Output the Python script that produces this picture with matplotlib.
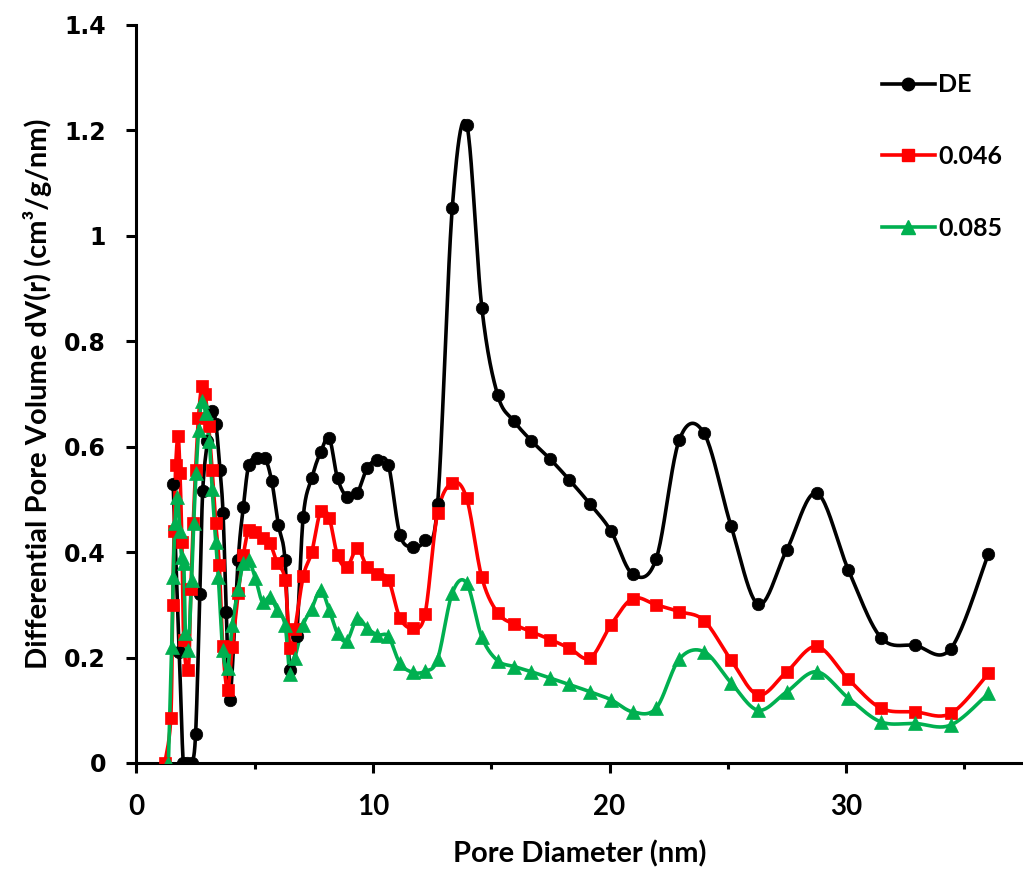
import numpy as np
import matplotlib
matplotlib.use("Agg")
import matplotlib.pyplot as plt
from matplotlib.lines import Line2D
from matplotlib.ticker import MultipleLocator, FuncFormatter

# pore size distributions (BJH), diameter in nm, dV/dD in cm3/g/nm
x_de = [1.55, 1.81, 1.98, 2.15, 2.33, 2.5, 2.68, 2.8, 3.0, 3.2,
        3.36, 3.53, 3.66, 3.8, 3.95, 4.3, 4.52, 4.75, 5.08, 5.43,
        5.72, 6.0, 6.28, 6.49, 6.77, 7.05, 7.41, 7.79, 8.15, 8.5,
        8.9, 9.33, 9.75, 10.18, 10.65, 11.14, 11.68, 12.2, 12.73, 13.35,
        13.96, 14.6, 15.27, 15.97, 16.7, 17.5, 18.3, 19.18, 20.06, 20.98,
        21.97, 22.95, 24.0, 25.14, 26.29, 27.49, 28.76, 30.1, 31.47, 32.92,
        34.43, 36.02]
y_de = [0.53, 0.21, 0, 0, 0, 0.055, 0.32, 0.515, 0.61, 0.667,
        0.643, 0.556, 0.474, 0.287, 0.12, 0.385, 0.486, 0.565, 0.578, 0.578,
        0.534, 0.452, 0.385, 0.176, 0.24, 0.467, 0.541, 0.59, 0.616, 0.54,
        0.505, 0.512, 0.559, 0.575, 0.565, 0.433, 0.41, 0.423, 0.491, 1.052,
        1.211, 0.864, 0.698, 0.648, 0.611, 0.576, 0.537, 0.491, 0.44, 0.358,
        0.387, 0.613, 0.625, 0.449, 0.301, 0.404, 0.512, 0.366, 0.238, 0.223,
        0.217, 0.397]

x_046 = [1.2, 1.45, 1.53, 1.59, 1.66, 1.76, 1.84, 1.92, 2.0, 2.19,
         2.3, 2.4, 2.5, 2.62, 2.76, 2.9, 3.05, 3.2, 3.35, 3.5,
         3.65, 3.85, 4.05, 4.3, 4.52, 4.75, 5.03, 5.33, 5.64, 5.95,
         6.28, 6.49, 6.7, 7.05, 7.41, 7.79, 8.15, 8.5, 8.9, 9.33,
         9.75, 10.18, 10.65, 11.14, 11.68, 12.2, 12.73, 13.35, 13.96, 14.6,
         15.27, 15.97, 16.7, 17.5, 18.3, 19.18, 20.06, 20.98, 21.97, 22.95,
         24.0, 25.14, 26.29, 27.49, 28.76, 30.1, 31.47, 32.92, 34.43, 36.02]
y_046 = [0, 0.085, 0.30, 0.44, 0.565, 0.62, 0.55, 0.42, 0.233, 0.176,
         0.33, 0.455, 0.556, 0.654, 0.715, 0.70, 0.64, 0.556, 0.455, 0.376,
         0.221, 0.139, 0.22, 0.322, 0.395, 0.442, 0.439, 0.426, 0.417, 0.379,
         0.347, 0.218, 0.255, 0.354, 0.40, 0.478, 0.464, 0.394, 0.372, 0.407,
         0.372, 0.358, 0.348, 0.275, 0.256, 0.283, 0.474, 0.531, 0.502, 0.352,
         0.285, 0.263, 0.249, 0.234, 0.218, 0.199, 0.262, 0.312, 0.300, 0.287,
         0.270, 0.195, 0.129, 0.173, 0.221, 0.159, 0.104, 0.097, 0.094, 0.170]

x_085 = [1.35, 1.49, 1.55, 1.63, 1.73, 1.83, 1.91, 2.0, 2.07, 2.19,
         2.33, 2.42, 2.52, 2.63, 2.76, 2.92, 3.08, 3.2, 3.35, 3.46,
         3.65, 3.85, 4.05, 4.3, 4.52, 4.75, 5.03, 5.33, 5.64, 5.95,
         6.28, 6.49, 6.7, 7.05, 7.41, 7.79, 8.15, 8.5, 8.9, 9.33,
         9.75, 10.18, 10.65, 11.14, 11.68, 12.2, 12.73, 13.35, 13.96, 14.6,
         15.27, 15.97, 16.7, 17.5, 18.3, 19.18, 20.06, 20.98, 21.97, 22.95,
         24.0, 25.14, 26.29, 27.49, 28.76, 30.1, 31.47, 32.92, 34.43, 36.02]
y_085 = [0, 0.22, 0.353, 0.455, 0.505, 0.44, 0.391, 0.38, 0.246, 0.214,
         0.347, 0.455, 0.55, 0.632, 0.686, 0.664, 0.61, 0.52, 0.42, 0.353,
         0.214, 0.18, 0.262, 0.33, 0.379, 0.385, 0.35, 0.305, 0.315, 0.29,
         0.262, 0.168, 0.2, 0.262, 0.293, 0.328, 0.29, 0.246, 0.232, 0.275,
         0.256, 0.243, 0.24, 0.189, 0.172, 0.174, 0.197, 0.322, 0.341, 0.239,
         0.194, 0.183, 0.173, 0.161, 0.149, 0.135, 0.12, 0.097, 0.104, 0.197,
         0.211, 0.152, 0.1, 0.135, 0.173, 0.123, 0.078, 0.075, 0.072, 0.132]

labels = ["DE", "0.046", "0.085"]
colors = ["black", "#FF0000", "#00B050"]
markers = ["o", "s", "^"]


def smooth(x, y, n=24):
    # excel style smoothed line: cubic bezier with catmull-rom control points
    p = np.column_stack([x, y]).astype(float)
    p = np.vstack([p[0], p, p[-1]])
    out = []
    t = np.linspace(0, 1, n)[:, None]
    for i in range(1, len(p) - 2):
        p0, p1, p2, p3 = p[i - 1], p[i], p[i + 1], p[i + 2]
        c1 = p1 + (p2 - p0) / 6
        c2 = p2 - (p3 - p1) / 6
        seg = ((1 - t) ** 3) * p1 + 3 * ((1 - t) ** 2) * t * c1 \
            + 3 * (1 - t) * t ** 2 * c2 + t ** 3 * p2
        out.append(seg)
    out = np.vstack(out)
    return out[:, 0], out[:, 1]


fig = plt.figure(figsize=(10.23, 8.69), dpi=100)
ax = fig.add_axes([0.1334, 0.122, 0.8666, 0.8493])

series = [(x_de, y_de), (x_046, y_046), (x_085, y_085)]
handles = []
for (xs, ys), lab, c, m in zip(series, labels, colors, markers):
    sx, sy = smooth(xs, ys)
    ax.plot(sx, sy, color=c, lw=2.6, solid_capstyle="round", zorder=2)
    ms = 9 if m != "^" else 10
    ax.plot(xs, ys, ls="none", marker=m, ms=ms, color=c, mec=c, mew=0.5, zorder=3)
    handles.append(Line2D([], [], color=c, lw=2.6, marker=m, ms=ms, mec=c))

ax.set_xlim(0, 37.48)
ax.set_ylim(0, 1.4)
ax.spines["top"].set_visible(False)
ax.spines["right"].set_visible(False)
for s in ["left", "bottom"]:
    ax.spines[s].set_linewidth(2.2)

ax.xaxis.set_major_locator(MultipleLocator(10))
ax.xaxis.set_minor_locator(MultipleLocator(5))
ax.yaxis.set_major_locator(MultipleLocator(0.2))
ax.yaxis.set_major_formatter(FuncFormatter(lambda v, pos: f"{v:g}"))
ax.tick_params(axis="both", which="major", direction="out", length=7, width=2.2)
ax.tick_params(axis="x", which="minor", direction="out", length=4.5, width=2.2)
ax.tick_params(axis="y", which="major", pad=15)
ax.tick_params(axis="x", which="major", pad=15)

for t in ax.get_yticklabels():
    t.set_fontfamily("DejaVu Sans")
    t.set_fontweight("bold")
    t.set_fontsize(17)
for t in ax.get_xticklabels():
    t.set_fontfamily("Lato")
    t.set_fontweight("bold")
    t.set_fontsize(20)

ax.set_xlabel("Pore Diameter (nm)", fontfamily="Lato", fontweight="bold",
              fontsize=21, labelpad=15)
ax.set_ylabel("Differential Pore Volume dV(r) (cm³/g/nm)", fontfamily="Lato",
              fontweight="bold", fontsize=21, labelpad=9)

leg = ax.legend(handles, labels, loc="upper left", bbox_to_anchor=(0.850, 0.930),
                bbox_transform=fig.transFigure, frameon=False, handlelength=2.1,
                handletextpad=0.15, labelspacing=1.95, borderpad=0,
                prop={"family": "Lato", "weight": "bold", "size": 18})

plt.savefig("out.png", dpi=100)
